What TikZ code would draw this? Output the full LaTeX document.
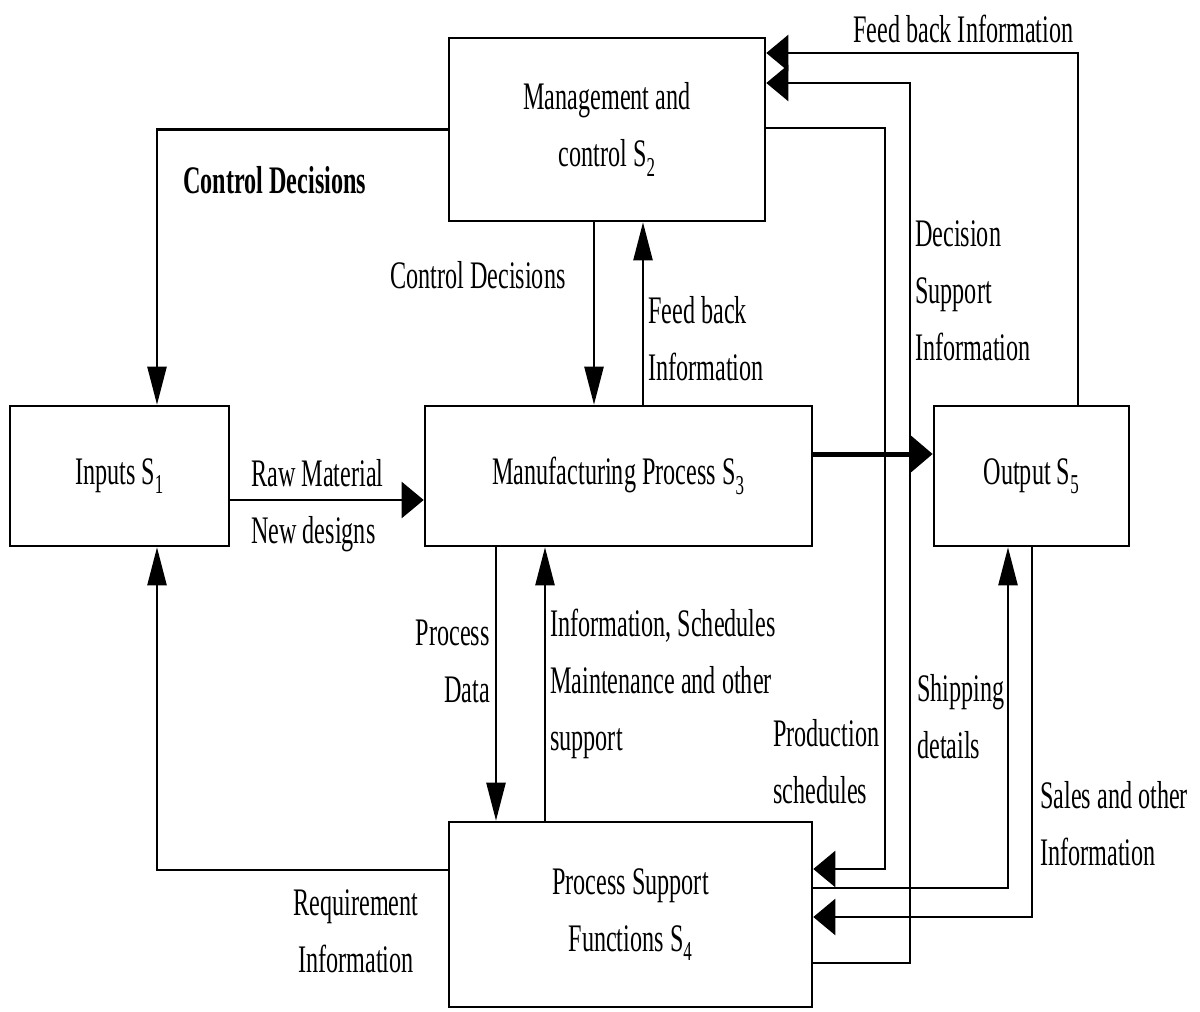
\documentclass[tikz,border=0pt]{standalone}
\usepackage{fontspec}
\setmainfont{Liberation Serif}[FakeStretch=0.62]
\usetikzlibrary{arrows.meta}

\tikzset{
  box/.style={draw, line width=2.6pt, rectangle, align=center, inner sep=0pt},
  lab/.style={inner sep=0pt, align=left},
  conn/.style={line width=2.4pt},
  vtip/.style={conn, -{Triangle[length=38pt,width=19pt]}},
  htip/.style={conn, -{Triangle[length=22pt,width=36pt]}},
}

\begin{document}
\begin{tikzpicture}[x=1pt, y=-1pt, every node/.style={font=\fontsize{39}{57}\selectfont}]
\useasboundingbox (0,0) rectangle (1200,1012);

% main blocks
\node[box, minimum width=316pt, minimum height=183pt] (M) at (607,129.5)
  {Management and\\control S\textsubscript{2}};
\node[box, minimum width=219pt, minimum height=140pt] (I) at (119.5,476)
  {Inputs S\textsubscript{1}};
\node[box, minimum width=387pt, minimum height=140pt] (P) at (618.5,476)
  {Manufacturing Process S\textsubscript{3}};
\node[box, minimum width=195pt, minimum height=140pt] (O) at (1031.5,476)
  {Output S\textsubscript{5}};
\node[box, minimum width=363pt, minimum height=185pt] (S) at (630.5,914.5)
  {Process Support\\Functions S\textsubscript{4}};

% flows between the blocks
\draw[vtip] (M.west) -| (I.north -| 157,0);
\draw[vtip] (M.south -| 594,0) -- (P.north -| 594,0);
\draw[vtip] (P.north -| 643,0) -- (M.south -| 643,0);
\draw[htip] (I.east |- 0,500) -- (P.west |- 0,500);
\draw[htip, line width=5pt] (P.east |- 0,454) -- (O.west |- 0,454);
\draw[htip] (O.north -| 1078,0) |- (M.east |- 0,53);
\draw[htip] (S.east |- 0,963) -| (910,83) -- (M.east |- 0,83);
\draw[htip] (M.east |- 0,128) -| (885,869) -- (S.east |- 0,869);
\draw[vtip] (S.east |- 0,888) -| (O.south -| 1008,0);
\draw[htip] (O.south -| 1032,0) |- (S.east |- 0,917);
\draw[vtip] (P.south -| 496,0) -- (S.north -| 496,0);
\draw[vtip] (S.north -| 545,0) -- (P.south -| 545,0);
\draw[vtip] (S.west |- 0,870) -| (I.south -| 157,0);

% flow labels (anchored at the baseline of their last line)
\node[lab, anchor=base west, font=\fontsize{39}{57}\selectfont\bfseries] (cd1) at (183,193) {Control Decisions};
\node[lab, anchor=base west] (cd2) at (390,288) {Control Decisions};
\node[lab, anchor=base west] (fb1) at (648,380) {Feed back\\Information};
\node[lab, anchor=base west] (rm) at (251,543) {Raw Material\\New designs};
\node[lab, anchor=base west] (fb2) at (853,42) {Feed back Information};
\node[lab, anchor=base west] (dsi) at (915,360) {Decision\\Support\\Information};
\node[lab, anchor=base east, align=right] (pd) at (490,702) {Process\\Data};
\node[lab, anchor=base west] (iss) at (550,750) {Information, Schedules\\Maintenance and other\\support};
\node[lab, anchor=base west] (ps) at (773,803) {Production\\schedules};
\node[lab, anchor=base west] (sd) at (917,758) {Shipping\\details};
\node[lab, anchor=base west] (so) at (1040,865) {Sales and other\\Information};
\node[lab, anchor=base, align=center] (ri) at (356,972) {Requirement\\Information};
\end{tikzpicture}
\end{document}
